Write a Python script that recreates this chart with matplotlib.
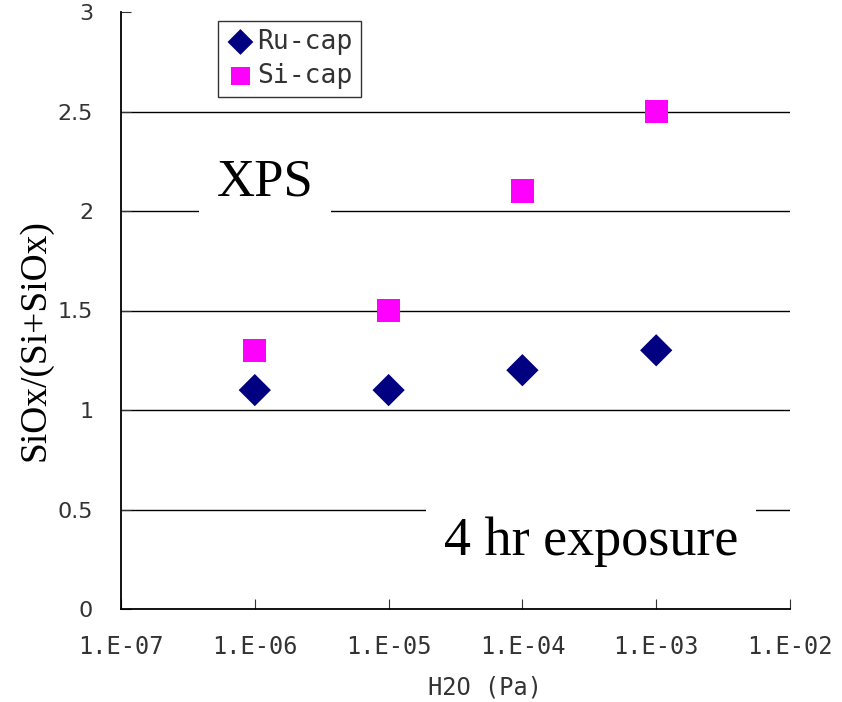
import matplotlib
matplotlib.use("Agg")
import matplotlib.pyplot as plt

pressure = [1e-6, 1e-5, 1e-4, 1e-3]
ru_cap = [1.1, 1.1, 1.2, 1.3]
si_cap = [1.3, 1.5, 2.1, 2.5]
xtick_vals = [1e-7, 1e-6, 1e-5, 1e-4, 1e-3, 1e-2]
xtick_labels = ["1.E-07", "1.E-06", "1.E-05", "1.E-04", "1.E-03", "1.E-02"]
ytick_vals = [0, 0.5, 1, 1.5, 2, 2.5, 3]
ytick_labels = ["0", "0.5", "1", "1.5", "2", "2.5", "3"]

MONO = "DejaVu Sans Mono"
TXT = "#333333"

fig = plt.figure(figsize=(8.42, 7.02), dpi=100)
ax = fig.add_axes([121/842, 1-609/702, (790-121)/842, (609-12)/702])

ax.set_xscale("log")
ax.set_xlim(1e-7, 1e-2)
ax.set_ylim(0, 3)

for y in [0.5, 1, 1.5, 2, 2.5]:
    ax.axhline(y, color="black", lw=1.0, zorder=1)

ax.scatter(pressure, ru_cap, marker="D", s=270, color="#000080", zorder=3, label="Ru-cap", edgecolors="none")
ax.scatter(pressure, si_cap, marker="s", s=280, color="#FF00FF", zorder=3, label="Si-cap", edgecolors="none")

ax.spines["top"].set_visible(False)
ax.spines["right"].set_visible(False)
ax.spines["left"].set_linewidth(1.3)
ax.spines["bottom"].set_linewidth(1.3)

ax.set_xticks(xtick_vals)
ax.set_xticklabels(xtick_labels, family=MONO)
ax.minorticks_off()
ax.tick_params(axis="x", direction="in", length=7, pad=19, labelsize=17, colors=TXT)
ax.set_yticks(ytick_vals)
ax.set_yticklabels(ytick_labels)
ax.tick_params(axis="y", direction="in", length=7, labelsize=16, colors=TXT, pad=20)

ax.set_xlabel("H2O (Pa)", fontsize=17, color=TXT, family=MONO)
ax.xaxis.set_label_coords((485 - 121) / 669, -(699 - 609) / 597)
ax.xaxis.label.set_va("bottom")
ax.set_ylabel("SiOx/(Si+SiOx)", fontsize=27, family="Liberation Serif")
ax.yaxis.set_label_coords(-(121-53)/669, 1-(340-12)/597)

ax.text(265/842, 1-182/702, "XPS", transform=fig.transFigure, ha="center", va="center",
        family="Liberation Serif", fontsize=38,
        bbox=dict(facecolor="white", edgecolor="none", pad=13), zorder=4)
ax.text(591/842, 1-542/702, "4 hr exposure", transform=fig.transFigure, ha="center", va="center",
        family="Liberation Serif", fontsize=39,
        bbox=dict(facecolor="white", edgecolor="none", pad=13), zorder=4)

leg = ax.legend(loc="upper left", bbox_to_anchor=(218/842, 1-21/702), bbox_transform=fig.transFigure,
                borderaxespad=0, prop=dict(family=MONO, size=19), frameon=True, fancybox=False,
                edgecolor="black", handletextpad=0.1, borderpad=0.3, labelspacing=0.3,
                handlelength=1.1, markerscale=0.8)
leg.get_frame().set_linewidth(1.0)
for t in leg.get_texts():
    t.set_color(TXT)

fig.savefig("out.png", dpi=100)
